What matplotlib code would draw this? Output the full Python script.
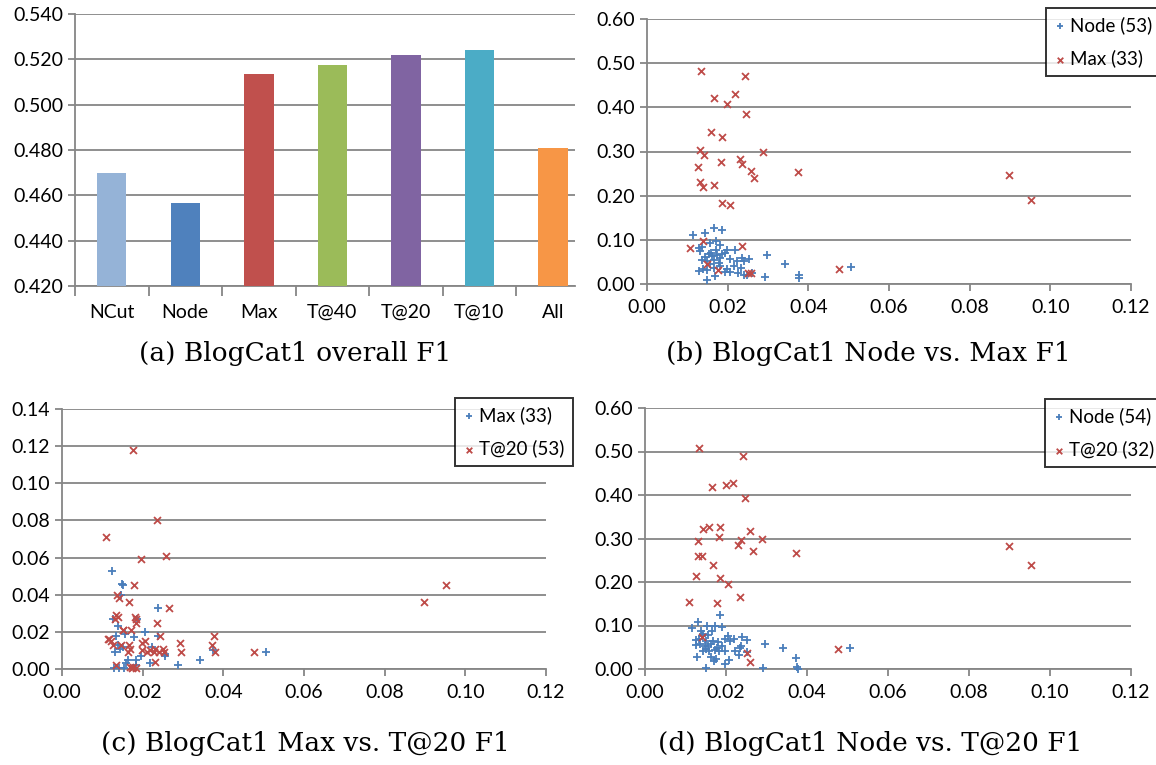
import numpy as np
import matplotlib
matplotlib.use('Agg')
import matplotlib.pyplot as plt

# panel (a) bars
cats = ['NCut', 'Node', 'Max', 'T@40', 'T@20', 'T@10', 'All']
f1 = [0.470, 0.4565, 0.5137, 0.5173, 0.522, 0.5239, 0.4807]
bar_colors = ['#95B3D7', '#4F81BD', '#C0504D', '#9BBB59', '#8064A2', '#4BACC6', '#F79646']

# panel (b) Node vs Max
node_b_x = [0.0115, 0.0143, 0.0167, 0.0186, 0.0128, 0.0136, 0.0132, 0.0155, 0.0172, 0.0180,
            0.0198, 0.0219, 0.0193, 0.0186, 0.0174, 0.0161, 0.0153, 0.0145, 0.0136, 0.0149,
            0.0165, 0.0178, 0.0157, 0.0165, 0.0149, 0.0140, 0.0130, 0.0182, 0.0198, 0.0207,
            0.0223, 0.0236, 0.0240, 0.0254, 0.0205, 0.0233, 0.0225, 0.0240, 0.0298, 0.0343,
            0.0293, 0.0376, 0.0378, 0.0149, 0.0168, 0.0194, 0.0260, 0.0248, 0.0172, 0.0159,
            0.0182, 0.0215, 0.0505]
node_b_y = [0.110, 0.115, 0.127, 0.123, 0.081, 0.083, 0.075, 0.092, 0.098, 0.089,
            0.078, 0.077, 0.071, 0.068, 0.065, 0.064, 0.068, 0.062, 0.055, 0.052,
            0.054, 0.048, 0.045, 0.037, 0.031, 0.035, 0.029, 0.041, 0.033, 0.028,
            0.052, 0.058, 0.052, 0.056, 0.056, 0.037, 0.024, 0.020, 0.066, 0.045,
            0.016, 0.021, 0.014, 0.008, 0.018, 0.027, 0.025, 0.021, 0.078, 0.070,
            0.060, 0.041, 0.038]
max_b_x = [0.0134, 0.0243, 0.0217, 0.0165, 0.0199, 0.0245, 0.0158, 0.0185, 0.0288, 0.0132,
           0.0142, 0.0230, 0.0236, 0.0183, 0.0126, 0.0259, 0.0374, 0.0266, 0.0898, 0.0131,
           0.0139, 0.0167, 0.0952, 0.0186, 0.0205, 0.0138, 0.0236, 0.0107, 0.0149, 0.0177,
           0.0477, 0.0250, 0.0259]
max_b_y = [0.482, 0.471, 0.430, 0.422, 0.407, 0.385, 0.345, 0.333, 0.300, 0.303,
           0.293, 0.283, 0.271, 0.276, 0.266, 0.256, 0.253, 0.239, 0.247, 0.230,
           0.219, 0.224, 0.191, 0.184, 0.180, 0.097, 0.085, 0.081, 0.045, 0.031,
           0.035, 0.025, 0.025]

# panel (c) Max vs T@20
max_c_x = [0.0125, 0.0148, 0.0150, 0.0147, 0.0239, 0.0127, 0.0186, 0.0139, 0.0133, 0.0156,
           0.0179, 0.0205, 0.0239, 0.0139, 0.0145, 0.0223, 0.0131, 0.0196, 0.0184, 0.0164,
           0.0217, 0.0255, 0.0256, 0.0288, 0.0342, 0.0375, 0.0505, 0.0128, 0.0142, 0.0153,
           0.0159, 0.0152, 0.0183]
max_c_y = [0.053, 0.046, 0.045, 0.040, 0.033, 0.027, 0.027, 0.023, 0.018, 0.019,
           0.017, 0.020, 0.018, 0.013, 0.011, 0.012, 0.009, 0.007, 0.005, 0.005,
           0.003, 0.008, 0.007, 0.002, 0.005, 0.010, 0.009, 0.0004, 0.0004, 0.0004,
           0.003, 0.012, 0.002]
t20_c_x = [0.0176, 0.0235, 0.0108, 0.0259, 0.0195, 0.0179, 0.0952, 0.0898, 0.0137, 0.0142,
           0.0166, 0.0265, 0.0134, 0.0140, 0.0131, 0.0180, 0.0184, 0.0183, 0.0236, 0.0150,
           0.0170, 0.0243, 0.0376, 0.0113, 0.0122, 0.0205, 0.0292, 0.0127, 0.0147, 0.0165,
           0.0198, 0.0373, 0.0168, 0.0250, 0.0198, 0.0210, 0.0227, 0.0241, 0.0252, 0.0296,
           0.0379, 0.0476, 0.0163, 0.0230, 0.0135, 0.0168, 0.0173, 0.0184, 0.0152, 0.0117,
           0.0218, 0.0176, 0.0231]
t20_c_y = [0.118, 0.080, 0.071, 0.061, 0.059, 0.045, 0.045, 0.036, 0.040, 0.038,
           0.036, 0.033, 0.029, 0.028, 0.027, 0.028, 0.027, 0.025, 0.025, 0.021,
           0.021, 0.018, 0.018, 0.016, 0.015, 0.015, 0.014, 0.013, 0.013, 0.013,
           0.014, 0.013, 0.011, 0.011, 0.010, 0.009, 0.009, 0.009, 0.009, 0.009,
           0.009, 0.009, 0.009, 0.004, 0.002, 0.001, 0.0004, 0.0004, 0.021, 0.016,
           0.010, 0.001, 0.011]

# panel (d) Node vs T@20
node_d_x = [0.0186, 0.0132, 0.0115, 0.0152, 0.0172, 0.0189, 0.0166, 0.0139, 0.0142, 0.0156,
            0.0125, 0.0133, 0.0150, 0.0168, 0.0181, 0.0198, 0.0205, 0.0220, 0.0239, 0.0253,
            0.0127, 0.0137, 0.0148, 0.0156, 0.0151, 0.0144, 0.0162, 0.0174, 0.0182, 0.0178,
            0.0198, 0.0223, 0.0235, 0.0237, 0.0231, 0.0129, 0.0164, 0.0170, 0.0197, 0.0208,
            0.0150, 0.0296, 0.0341, 0.0373, 0.0376, 0.0292, 0.0252, 0.0140, 0.0158, 0.0190,
            0.0211, 0.0176, 0.0377, 0.0506]
node_d_y = [0.125, 0.107, 0.094, 0.100, 0.098, 0.096, 0.088, 0.087, 0.081, 0.079,
            0.067, 0.069, 0.064, 0.064, 0.063, 0.070, 0.075, 0.069, 0.074, 0.066,
            0.056, 0.058, 0.052, 0.054, 0.046, 0.042, 0.058, 0.044, 0.041, 0.048,
            0.041, 0.041, 0.048, 0.052, 0.033, 0.028, 0.028, 0.018, 0.012, 0.020,
            0.002, 0.058, 0.048, 0.025, 0.005, 0.003, 0.038, 0.075, 0.041, 0.052,
            0.065, 0.022, 0.001, 0.048]
t20_d_x = [0.0134, 0.0243, 0.0217, 0.0199, 0.0166, 0.0246, 0.0185, 0.0158, 0.0142, 0.0259,
           0.0183, 0.0132, 0.0289, 0.0236, 0.0230, 0.0266, 0.0374, 0.0898, 0.0952, 0.0132,
           0.0141, 0.0167, 0.0125, 0.0186, 0.0206, 0.0235, 0.0108, 0.0177, 0.0140, 0.0476,
           0.0251, 0.0259]
t20_d_y = [0.509, 0.490, 0.427, 0.422, 0.418, 0.394, 0.327, 0.327, 0.321, 0.317,
           0.304, 0.294, 0.299, 0.296, 0.286, 0.272, 0.267, 0.283, 0.238, 0.260,
           0.260, 0.238, 0.214, 0.209, 0.196, 0.165, 0.154, 0.151, 0.073, 0.045,
           0.037, 0.016]

W, H = 1156, 765
GRAY = '#868686'
BLUE = '#4A7EBB'
RED = '#BE4B48'
plt.rcParams['font.family'] = ['Lato', 'DejaVu Sans']
plt.rcParams['font.size'] = 14

fig = plt.figure(figsize=(W / 100, H / 100), dpi=100)


def rect(l, t, r, b):
    # pixel box -> figure fraction
    return [l / W, 1 - b / H, (r - l) / W, (b - t) / H]


def style(ax):
    for s in ['top', 'right']:
        ax.spines[s].set_visible(False)
    for s in ['left', 'bottom']:
        ax.spines[s].set_color(GRAY)
        ax.spines[s].set_linewidth(1.3)
    ax.yaxis.grid(True, color=GRAY, linewidth=1.3)
    ax.set_axisbelow(True)
    ax.tick_params(axis='both', colors=GRAY, width=1.3, length=5, labelcolor='black')


# (a)
ax = fig.add_axes(rect(75, 14, 575, 286))
ax.bar(range(len(cats)), f1, width=0.4, color=bar_colors, zorder=3)
ax.set_ylim(0.42, 0.54)
ax.set_yticks(np.arange(0.42, 0.5401, 0.02))
ax.set_yticklabels(['%.3f' % v for v in np.arange(0.42, 0.5401, 0.02)])
ax.set_xlim(-0.5, 6.3)
style(ax)
ax.set_xticks(range(len(cats)))
ax.set_xticklabels(cats)
ax.tick_params(axis='x', which='major', length=0, pad=13)
ax.set_xticks(np.arange(-0.5, 6.0, 1), minor=True)
ax.tick_params(axis='x', which='minor', length=7, width=1.3, colors=GRAY)


def scatter_panel(box, xb, yb, lb, xr, yr, lr, ymax, ystep, leg_lt):
    ax = fig.add_axes(rect(*box))
    ax.scatter(xb, yb, marker='+', s=36, color=BLUE, linewidths=1.3, label=lb, clip_on=False, zorder=3)
    ax.scatter(xr, yr, marker='x', s=25, color=RED, linewidths=1.3, label=lr, clip_on=False, zorder=3)
    ax.set_xlim(0, 0.12)
    ax.set_ylim(0, ymax)
    ax.set_xticks(np.arange(0, 0.1201, 0.02))
    ax.set_xticklabels(['%.2f' % v for v in np.arange(0, 0.1201, 0.02)])
    ax.set_yticks(np.arange(0, ymax + 1e-9, ystep))
    ax.set_yticklabels(['%.2f' % v for v in np.arange(0, ymax + 1e-9, ystep)])
    style(ax)
    ax.tick_params(axis='x', pad=6)
    leg = ax.legend(loc='upper left', bbox_to_anchor=(leg_lt[0] / W, 1 - leg_lt[1] / H),
                    bbox_transform=fig.transFigure, frameon=True, fancybox=False,
                    borderaxespad=0, handlelength=0.6, handletextpad=0.28, markerscale=0.8,
                    labelspacing=0.85, borderpad=0.42, fontsize=13.5)
    leg.get_frame().set_edgecolor('black')
    leg.get_frame().set_linewidth(1.4)
    return ax


scatter_panel((647, 19, 1131, 284), node_b_x, node_b_y, 'Node (53)', max_b_x, max_b_y, 'Max (33)',
              0.6, 0.1, (1046, 8))
scatter_panel((62, 409, 546, 669), max_c_x, max_c_y, 'Max (33)', t20_c_x, t20_c_y, 'T@20 (53)',
              0.14, 0.02, (455, 398))
scatter_panel((645, 408, 1131, 669), node_d_x, node_d_y, 'Node (54)', t20_d_x, t20_d_y, 'T@20 (32)',
              0.6, 0.1, (1045, 399))

cap = dict(ha='center', va='center', fontsize=19, family='DejaVu Serif')
fig.text(295 / W, 1 - 353 / H, '(a) BlogCat1 overall F1', **cap)
fig.text(868 / W, 1 - 353 / H, '(b) BlogCat1 Node vs. Max F1', **cap)
fig.text(305 / W, 1 - 743 / H, '(c) BlogCat1 Max vs. T@20 F1', **cap)
fig.text(870 / W, 1 - 743 / H, '(d) BlogCat1 Node vs. T@20 F1', **cap)

fig.savefig('out.png', dpi=100)
